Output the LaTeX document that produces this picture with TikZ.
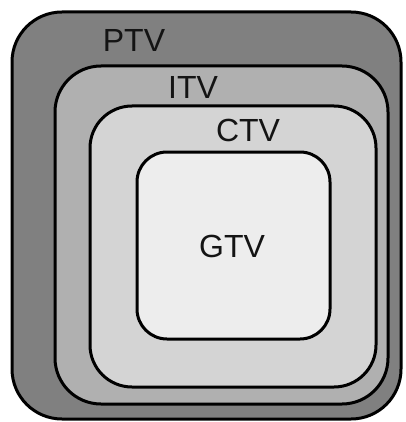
\documentclass[tikz,border=0pt]{standalone}
\usepackage{fontspec}
\setmainfont{Liberation Sans}
\begin{document}
\begin{tikzpicture}[x=1pt,y=-1pt,
  volume/.style={draw=black,line width=3pt},
  label/.style={font=\fontsize{32}{36}\selectfont,text=black!92,inner sep=0pt}]
\useasboundingbox (0,0) rectangle (405,422);
% nested target volumes, outermost first
\draw[volume,fill=black!50,rounded corners=50pt] (12,12) rectangle (401,419);
\draw[volume,fill=black!31,rounded corners=46pt] (55,66) rectangle (388,404);
\draw[volume,fill=black!17,rounded corners=42pt] (90,106) rectangle (376,387);
\draw[volume,fill=black!7,rounded corners=30pt] (137,152) rectangle (330,339);
% volume labels
\node[label] (ptv) at (134,40) {PTV};
\node[label] (itv) at (193,87) {ITV};
\node[label] (ctv) at (248,130) {CTV};
\node[label] (gtv) at (232,246) {GTV};
\end{tikzpicture}
\end{document}
